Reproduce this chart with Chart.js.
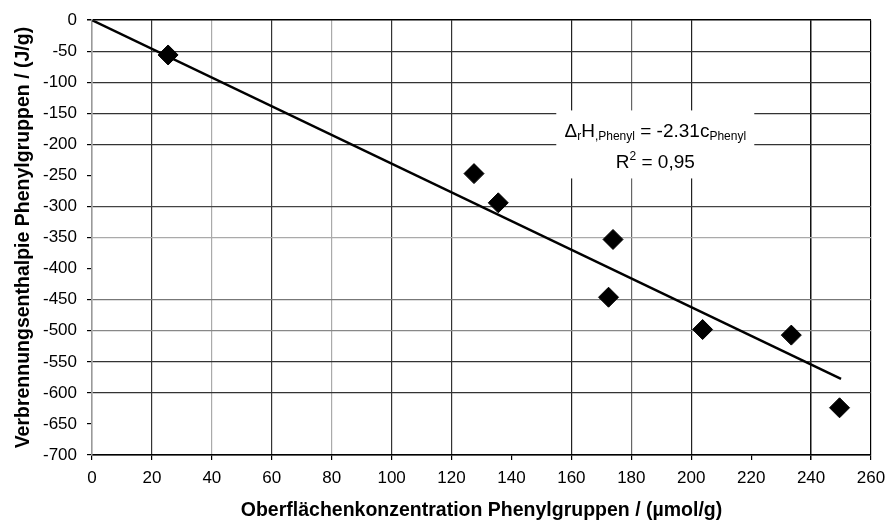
<!DOCTYPE html>
<html>
<head>
<meta charset="utf-8">
<script src="https://cdn.jsdelivr.net/npm/chart.js@4.4.1/dist/chart.umd.min.js"></script>
<style>
  html, body { margin: 0; padding: 0; background: #fff; }
  #wrap { width: 890px; height: 530px; }
</style>
</head>
<body>
<div id="wrap"><canvas id="c"></canvas></div>
<script>
// Messpunkte: Oberflächenkonzentration (µmol/g) → Verbrennungsenthalpie (J/g)
const concX    = [25.4, 127.5, 135.6, 173.9, 172.4, 203.8, 233.4, 249.5];
const enthalpy = [-56, -247, -294, -353, -446, -498, -507, -624];

// Trendlinie ΔrH = -2.31 c
const trendX = [0, 250];
const trendY = [0, -577.5];

const xTicks = [0, 20, 40, 60, 80, 100, 120, 140, 160, 180, 200, 220, 240, 260];
const yTicks = [0, -50, -100, -150, -200, -250, -300, -350, -400, -450, -500, -550, -600, -650, -700];

const annotText = { x: 188, y: -200 };

const FONT = '"Liberation Sans", Arial, sans-serif';

// grid shades as they look in the scan (null = line missing)
const xGridShade = { 0: '#999', 20: '#333', 40: '#aaa', 60: '#333', 80: '#aaa', 100: '#333', 120: '#333',
                     140: null, 160: '#222', 180: '#666', 200: '#222', 220: null, 240: '#111', 260: '#000' };
const yGridShade = { 0: '#000', '-50': '#333', '-100': '#333', '-150': '#333', '-200': '#333', '-250': null,
                     '-300': '#444', '-350': '#aaa', '-400': null, '-450': '#777', '-500': '#888',
                     '-550': '#333', '-600': '#333', '-650': null, '-700': '#000' };

function richLine(ctx, parts, cx, cy) {
    let total = 0;
    parts.forEach(p => { ctx.font = p.size + 'px ' + FONT; p.w = ctx.measureText(p.t).width; total += p.w; });
    let x = cx - total / 2;
    parts.forEach(p => {
        ctx.font = p.size + 'px ' + FONT;
        ctx.fillText(p.t, x, cy + (p.dy || 0));
        x += p.w;
    });
    return total;
}

const annotPlugin = {
    id: 'annot',
    afterDatasetsDraw(chart) {
        const ctx = chart.ctx;
        const cx = chart.scales.x.getPixelForValue(annotText.x);
        const cy = chart.scales.y.getPixelForValue(annotText.y);
        ctx.save();
        ctx.fillStyle = '#fff';
        ctx.fillRect(cx - 99, cy - 34, 198, 68);
        ctx.fillStyle = '#000';
        ctx.textBaseline = 'middle';
        ctx.textAlign = 'left';
        richLine(ctx, [
            { t: 'Δ', size: 19 },
            { t: 'r', size: 12, dy: 5 },
            { t: 'H', size: 19 },
            { t: ',Phenyl', size: 12, dy: 5 },
            { t: ' = -2.31c', size: 19 },
            { t: 'Phenyl', size: 12, dy: 5 },
        ], cx, cy - 13);
        richLine(ctx, [
            { t: 'R', size: 19 },
            { t: '2', size: 12, dy: -6 },
            { t: ' = 0,95', size: 19 },
        ], cx, cy + 18);
        ctx.restore();
    }
};

new Chart(document.getElementById('c'), {
    type: 'scatter',
    data: {
        datasets: [
            {
                label: 'Messwerte',
                data: concX.map((x, i) => ({ x: x, y: enthalpy[i] })),
                pointStyle: 'rectRot',
                pointRadius: 10,
                pointBackgroundColor: '#000',
                pointBorderColor: '#000',
                pointBorderWidth: 1,
            },
            {
                label: 'Trend',
                type: 'line',
                data: trendX.map((x, i) => ({ x: x, y: trendY[i] })),
                borderColor: '#000',
                borderWidth: 2.5,
                pointRadius: 0,
                fill: false,
            },
        ],
    },
    options: {
        responsive: true,
        maintainAspectRatio: false,
        animation: false,
        layout: { padding: { top: 19, right: 19, left: 2, bottom: 0 } },
        plugins: { legend: { display: false }, tooltip: { enabled: false } },
        scales: {
            x: {
                type: 'linear', min: 0, max: 260,
                afterBuildTicks: s => { s.ticks = xTicks.map(v => ({ value: v })); },
                afterFit: s => { s.height = 75; s.paddingRight = 0; s.paddingLeft = 0; },
                border: { color: '#000', width: 1.5 },
                grid: {
                    color: c => xGridShade[c.tick.value] || 'rgba(0,0,0,0)',
                    lineWidth: c => c.tick.value === 240 ? 1.5 : 1.2,
                    tickColor: '#000',
                    tickLength: 5,
                },
                ticks: { color: '#000', padding: 8, maxRotation: 0, font: { family: FONT, size: 17 } },
                title: {
                    display: true,
                    text: 'Oberflächenkonzentration Phenylgruppen / (µmol/g)',
                    color: '#000',
                    font: { family: FONT, size: 19.5, weight: 'bold' },
                    padding: { top: 0, bottom: 8 },
                },
            },
            y: {
                type: 'linear', min: -700, max: 0,
                afterBuildTicks: s => { s.ticks = yTicks.map(v => ({ value: v })); },
                afterFit: s => { s.width = 90; },
                border: { color: '#999', width: 1.5 },
                grid: {
                    color: c => yGridShade[c.tick.value] || 'rgba(0,0,0,0)',
                    lineWidth: c => (c.tick.value === 0 ? 1.5 : 1.2),
                    tickColor: '#000',
                    tickLength: 5,
                },
                ticks: { color: '#000', padding: 10, font: { family: FONT, size: 17 } },
                title: {
                    display: true,
                    text: 'Verbrennungsenthalpie Phenylgruppen / (J/g)',
                    color: '#000',
                    font: { family: FONT, size: 19.5, weight: 'bold' },
                    padding: { top: 10, bottom: 0 },
                },
            },
        },
    },
    plugins: [annotPlugin],
});
</script>
</body>
</html>
